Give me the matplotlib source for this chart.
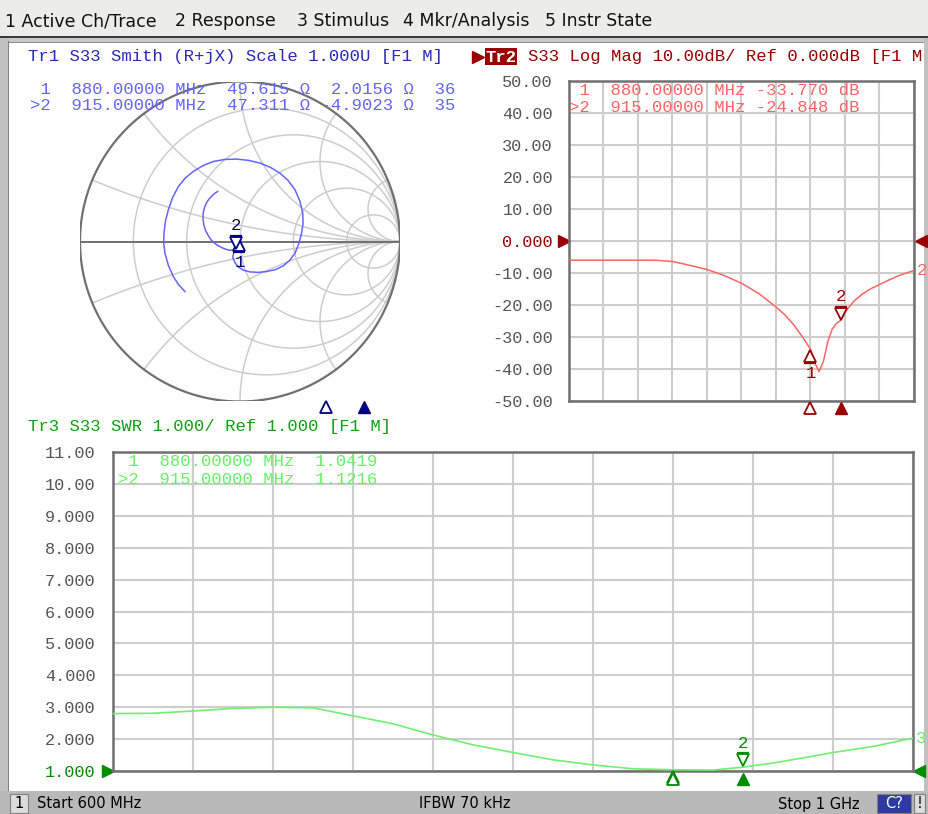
import numpy as np
import matplotlib
matplotlib.use("Agg")
import matplotlib.pyplot as plt
from matplotlib.patches import Rectangle
from matplotlib.transforms import offset_copy

# ---------------- data ----------------
freq_start_mhz, freq_stop_mhz = 600, 1000
marker_freqs_mhz = [880, 915]
marker_labels = ["1", "2"]

logmag_freq_mhz = [600, 640, 680, 700, 720, 740, 760, 780, 800, 820, 840, 850, 860, 870,
                   880, 885, 890, 895, 900, 905, 910, 915, 920, 930, 940, 950, 960, 970,
                   980, 990, 1000]
logmag_db = [-6.0, -6.0, -6.0, -6.0, -6.4, -7.6, -8.9, -10.8, -13.2, -16.4, -20.6, -23.0,
             -26.0, -29.7, -33.8, -38.1, -40.8, -37.6, -31.5, -27.6, -25.8, -24.8, -22.2,
             -18.9, -16.6, -14.9, -13.6, -12.3, -11.1, -10.1, -9.2]
marker_logmag_db = [-33.770, -24.848]

swr_freq_mhz = [600, 620, 640, 660, 680, 700, 720, 740, 760, 780, 800, 820, 840, 860, 880,
                900, 915, 930, 945, 960, 980, 1000]
swr_values = [2.80, 2.81, 2.88, 2.96, 3.00, 2.98, 2.73, 2.48, 2.13, 1.82, 1.58, 1.35, 1.19,
              1.07, 1.04, 1.03, 1.12, 1.25, 1.41, 1.58, 1.77, 2.03]
marker_swr = [1.0419, 1.1216]

smith_gamma_re = [-0.344, -0.385, -0.417, -0.448, -0.469, -0.477, -0.475, -0.466, -0.448,
                  -0.421, -0.385, -0.342, -0.292, -0.232, -0.167, -0.094, -0.021, 0.054,
                  0.125, 0.191, 0.250, 0.302, 0.344, 0.374, 0.392, 0.394, 0.385, 0.368,
                  0.344, 0.311, 0.271, 0.221, 0.167, 0.114, 0.0625, 0.024, -0.010, -0.032,
                  -0.045, -0.035, -0.015, -0.003, 0.006, -0.010, -0.025, -0.0625, -0.085,
                  -0.110, -0.135, -0.160, -0.182, -0.200, -0.215, -0.225, -0.231, -0.230,
                  -0.220, -0.205, -0.188, -0.170, -0.155, -0.140]
smith_gamma_im = [-0.313, -0.268, -0.219, -0.148, -0.073, -0.010, 0.052, 0.126, 0.198,
                  0.275, 0.344, 0.397, 0.4375, 0.474, 0.500, 0.513, 0.515, 0.507, 0.490,
                  0.463, 0.427, 0.380, 0.323, 0.253, 0.177, 0.113, 0.052, -0.012, -0.073,
                  -0.117, -0.152, -0.176, -0.1875, -0.193, -0.190, -0.180, -0.160, -0.132,
                  -0.100, -0.045, 0.005, 0.020, 0.004, -0.025, -0.052, -0.055, -0.050,
                  -0.040, -0.027, -0.010, 0.012, 0.040, 0.068, 0.100, 0.140, 0.180, 0.218,
                  0.250, 0.272, 0.290, 0.303, 0.3125]
marker_r_ohm = [49.615, 47.311]
marker_x_ohm = [2.0156, -4.9023]
z0_ohm = 50.0

logmag_ticks = [50, 40, 30, 20, 10, 0, -10, -20, -30, -40, -50]
logmag_tick_labels = ["50.00", "40.00", "30.00", "20.00", "10.00", "0.000", "-10.00",
                      "-20.00", "-30.00", "-40.00", "-50.00"]
swr_ticks = [11, 10, 9, 8, 7, 6, 5, 4, 3, 2, 1]
swr_tick_labels = ["11.00", "10.00", "9.000", "8.000", "7.000", "6.000", "5.000", "4.000",
                   "3.000", "2.000", "1.000"]

smith_r_circles = [0.2, 0.5, 1.0, 2.0, 5.0]
smith_x_arcs = [0.2, 0.5, 1.0, 2.0, 5.0]

menu_items = ["1 Active Ch/Trace", "2 Response", "3 Stimulus", "4 Mkr/Analysis", "5 Instr State"]

# ---------------- style ----------------
W, H = 929, 814
MONO = ["Liberation Mono", "DejaVu Sans Mono"]
SANS = ["DejaVu Sans"]
FS = 12.4
GRID = "#CDCDCD"
FRAME = "#707070"
TICKC = "#555555"
SM_TRACE, SM_DARK, SM_TITLE = "#6464FF", "#000080", "#2A2AB4"
LM_TRACE, LM_DARK = "#FF6464", "#990000"
SW_TRACE, SW_DARK, SW_TITLE, SW_READ = "#70F070", "#008C00", "#10A010", "#66F066"

fig = plt.figure(figsize=(W / 100, H / 100), dpi=100)
fig.patch.set_facecolor("white")


def axes_px(x0, y0, x1, y1):
    return fig.add_axes([x0 / W, 1 - y1 / H, (x1 - x0) / W, (y1 - y0) / H])


# background / window frame
bg = axes_px(0, 0, W, H)
bg.set_xlim(0, W)
bg.set_ylim(H, 0)
bg.axis("off")
bg.add_patch(Rectangle((0, 0), W, 36, fc="#ECECEA", ec="none"))
bg.add_patch(Rectangle((0, 36), W, 2, fc="#3C3C3C", ec="none"))
bg.add_patch(Rectangle((0, 38), W, 4, fc="#C8C8C8", ec="none"))
bg.add_patch(Rectangle((0, 38), 9, 754, fc="#C0C0C0", ec="none"))
bg.add_patch(Rectangle((8, 41), 1.5, 751, fc="#808080", ec="none"))
bg.add_patch(Rectangle((924, 38), 5, 754, fc="#C0C0C0", ec="none", zorder=6))
bg.add_patch(Rectangle((9, 41.5), 915, 1.2, fc="#909090", ec="none"))
bg.add_patch(Rectangle((0, 791), W, 23, fc="#B9B9B9", ec="none"))

menu_x = [5, 175, 297, 403, 545]
for xm, item in zip(menu_x, menu_items):
    bg.text(xm, 21, item, fontsize=12.5, family=SANS, color="#111111", va="center", ha="left")

# status bar
bg.add_patch(Rectangle((10, 794), 18, 19, fc="#DCDCDC", ec="#808080", lw=0.8))
bg.text(19, 804, "1", fontsize=10.5, family=SANS, ha="center", va="center", color="black")
bg.text(37, 804, "Start 600 MHz", fontsize=10.5, family=SANS, ha="left", va="center", color="black")
bg.text(465, 804, "IFBW 70 kHz", fontsize=10.5, family=SANS, ha="center", va="center", color="black")
bg.text(860, 804, "Stop 1 GHz", fontsize=10.5, family=SANS, ha="right", va="center", color="black")
bg.add_patch(Rectangle((877, 794), 34, 19, fc="#2E3A9E", ec="#808080", lw=0.8))
bg.text(894, 804, "C?", fontsize=10.5, family=SANS, ha="center", va="center", color="white")
bg.add_patch(Rectangle((914, 794), 11, 19, fc="#DCDCDC", ec="#808080", lw=0.8))
bg.text(919.5, 804, "!", fontsize=10.5, family=SANS, ha="center", va="center", color="black")

# titles
bg.text(28, 57, "Tr1 S33 Smith (R+jX) Scale 1.000U [F1 M]", fontsize=FS, family=MONO,
        color=SM_TITLE, va="center", ha="left")
bg.plot([478], [57], marker=">", ms=8, color=LM_DARK, ls="none")
bg.add_patch(Rectangle((485, 48), 32, 17, fc=LM_DARK, ec="none"))
bg.text(501, 57, "Tr2", fontsize=FS, family=MONO, color="white", weight="bold",
        va="center", ha="center")
bg.text(528, 57, "S33 Log Mag 10.00dB/ Ref 0.000dB [F1 M", fontsize=FS, family=MONO,
        color=LM_DARK, va="center", ha="left")
bg.text(28, 426, "Tr3 S33 SWR 1.000/ Ref 1.000 [F1 M]", fontsize=FS, family=MONO,
        color=SW_TITLE, va="center", ha="left")


def draw_trace_marker(ax, x, y, active, color, label, label_clip=True):
    tr = ax.transData
    sgn = 1 if active else -1
    mk = "v" if active else "^"
    ax.plot([x], [y], marker=mk, ms=8.5, mfc="white", mec=color, mew=1.3, ls="none",
            transform=offset_copy(tr, fig=fig, x=0, y=sgn * 7, units="dots"),
            clip_on=False, zorder=6)
    ax.plot([x], [y], marker="_", ms=9, mec=color, mew=1.6, ls="none",
            transform=offset_copy(tr, fig=fig, x=0, y=sgn * 14, units="dots"),
            clip_on=False, zorder=6)
    ax.annotate(label, (x, y), xytext=(0, sgn * 24), textcoords="offset pixels",
                ha="center", va="center", color=color, family=MONO, fontsize=FS,
                annotation_clip=False, clip_on=label_clip, zorder=6)


def stim_markers(ax, color, dy):
    tr = offset_copy(ax.get_xaxis_transform(), fig=fig, x=0, y=-dy, units="dots")
    ax.plot([marker_freqs_mhz[0]], [0], marker="^", ms=8.5, mfc="white", mec=color, mew=1.3,
            ls="none", transform=tr, clip_on=False, zorder=6)
    ax.plot([marker_freqs_mhz[1]], [0], marker="^", ms=8.5, mfc=color, mec=color,
            ls="none", transform=tr, clip_on=False, zorder=6)


def ref_arrows(ax, ref, color, dxl, dxr):
    trl = offset_copy(ax.get_yaxis_transform(), fig=fig, x=dxl, y=0, units="dots")
    trr = offset_copy(ax.get_yaxis_transform(), fig=fig, x=dxr, y=0, units="dots")
    ax.plot([0], [ref], marker=">", ms=9, color=color, ls="none", transform=trl, clip_on=False)
    ax.plot([1], [ref], marker="<", ms=9, color=color, ls="none", transform=trr, clip_on=False)


def style_rect_axes(ax, ylim, ticks, labels, xstep, pad):
    ax.set_facecolor("none")
    ax.set_xlim(freq_start_mhz, freq_stop_mhz)
    ax.set_ylim(*ylim)
    ax.set_xticks(np.arange(freq_start_mhz, freq_stop_mhz + 1, xstep))
    ax.set_yticks(ticks)
    ax.set_yticklabels(labels, family=MONO, fontsize=12.2, color=TICKC)
    ax.tick_params(length=0, labelbottom=False, pad=pad)
    ax.grid(True, color=GRID, lw=1.5)
    ax.set_axisbelow(True)
    for s in ax.spines.values():
        s.set_color(FRAME)
        s.set_linewidth(1.8)


# ---------------- Smith chart ----------------
sm = axes_px(80, 81.5, 400, 401.5)
sm.set_xlim(-1, 1)
sm.set_ylim(-1, 1)
sm.axis("off")
sm.set_facecolor("none")


def gam(z):
    return (z - 1) / (z + 1)


tt = np.concatenate([-np.logspace(3, -3, 500), np.logspace(-3, 3, 500)])
for r in smith_r_circles:
    g = gam(r + 1j * tt)
    sm.plot(g.real, g.imag, color=GRID, lw=1.1, zorder=1)
tp = np.concatenate([[0.0], np.logspace(-3, 3, 800)])
for xv in smith_x_arcs:
    for s in (1, -1):
        g = gam(tp + 1j * s * xv)
        sm.plot(g.real, g.imag, color=GRID, lw=1.1, zorder=1)
th = np.linspace(0, 2 * np.pi, 400)
sm.plot(np.cos(th), np.sin(th), color=FRAME, lw=1.6, zorder=2)
sm.plot([-1, 1], [0, 0], color=FRAME, lw=1.4, zorder=2)
sm.plot(smith_gamma_re, smith_gamma_im, color=SM_TRACE, lw=1.1, zorder=3)
for i, (rr, xx) in enumerate(zip(marker_r_ohm, marker_x_ohm)):
    g = gam(complex(rr, xx) / z0_ohm)
    draw_trace_marker(sm, g.real, g.imag, i == 1, SM_DARK, marker_labels[i], label_clip=False)

sst = axes_px(14, 395, 459, 402)
sst.set_xlim(freq_start_mhz, freq_stop_mhz)
sst.set_ylim(0, 1)
sst.axis("off")
stim_markers(sst, SM_DARK, 5)

# smith readouts (clipped to panel)
sp = axes_px(10, 43, 458, 420)
sp.set_xlim(10, 458)
sp.set_ylim(420, 43)
sp.axis("off")
sp.set_facecolor("none")
for i, (f, rr, xx) in enumerate(zip(marker_freqs_mhz, marker_r_ohm, marker_x_ohm)):
    w = 2 * np.pi * f * 1e6
    if xx >= 0:
        extra = f"{xx / w * 1e12:.2f} pH"
    else:
        extra = f"{1 / (w * -xx) * 1e12:.3f} pF"
    pre = ">" if i == 1 else " "
    line = f"{pre}{marker_labels[i]}  {f:.5f} MHz  {rr:.3f} \u03a9 {xx:7.4f} \u03a9  {extra}"
    sp.text(30, 89 + 16 * i, line[:41], fontsize=FS, family=MONO, color=SM_TRACE,
            va="center", ha="left", clip_on=True)

# ---------------- Log Mag ----------------
lm = axes_px(569, 81, 914, 401)
style_rect_axes(lm, (-50, 50), logmag_ticks, logmag_tick_labels, 40, 11.5)
lm.get_yticklabels()[logmag_ticks.index(0)].set_color(LM_DARK)
lm.plot(logmag_freq_mhz, logmag_db, color=LM_TRACE, lw=1.1, zorder=3)
for i, (f, v) in enumerate(zip(marker_freqs_mhz, marker_logmag_db)):
    draw_trace_marker(lm, f, v, i == 1, LM_DARK, marker_labels[i])
stim_markers(lm, LM_DARK, 7)
ref_arrows(lm, 0, LM_DARK, -5, 7)
lm.annotate("2", (logmag_freq_mhz[-1], logmag_db[-1]), xytext=(3, 0), textcoords="offset pixels",
            ha="left", va="center", color=LM_TRACE, family=MONO, fontsize=FS, annotation_clip=False)
for i, (f, v) in enumerate(zip(marker_freqs_mhz, marker_logmag_db)):
    pre = ">" if i == 1 else " "
    lm.text(0, 1 - (9 + 17 * i) / 320, f"{pre}{marker_labels[i]}  {f:.5f} MHz {v:.3f} dB",
            transform=lm.transAxes, fontsize=FS, family=MONO, color=LM_TRACE,
            va="center", ha="left", zorder=7)

# ---------------- SWR ----------------
sw = axes_px(113, 452, 913, 771)
style_rect_axes(sw, (1, 11), swr_ticks, swr_tick_labels, 40, 12.5)
sw.get_yticklabels()[swr_ticks.index(1)].set_color(SW_DARK)
sw.plot(swr_freq_mhz, swr_values, color=SW_TRACE, lw=1.2, zorder=3)
for i, (f, v) in enumerate(zip(marker_freqs_mhz, marker_swr)):
    draw_trace_marker(sw, f, v, i == 1, SW_DARK, marker_labels[i])
stim_markers(sw, SW_DARK, 8)
ref_arrows(sw, 1, SW_DARK, -5, 6)
sw.annotate("3", (swr_freq_mhz[-1], swr_values[-1]), xytext=(3, 0), textcoords="offset pixels",
            ha="left", va="center", color=SW_READ, family=MONO, fontsize=FS, annotation_clip=False)
for i, (f, v) in enumerate(zip(marker_freqs_mhz, marker_swr)):
    pre = ">" if i == 1 else " "
    sw.text(5 / 800, 1 - (9 + 18 * i) / 319, f"{pre}{marker_labels[i]}  {f:.5f} MHz  {v:.4f}",
            transform=sw.transAxes, fontsize=FS, family=MONO, color=SW_READ,
            va="center", ha="left", zorder=7)

fig.savefig("out.png", dpi=100)
